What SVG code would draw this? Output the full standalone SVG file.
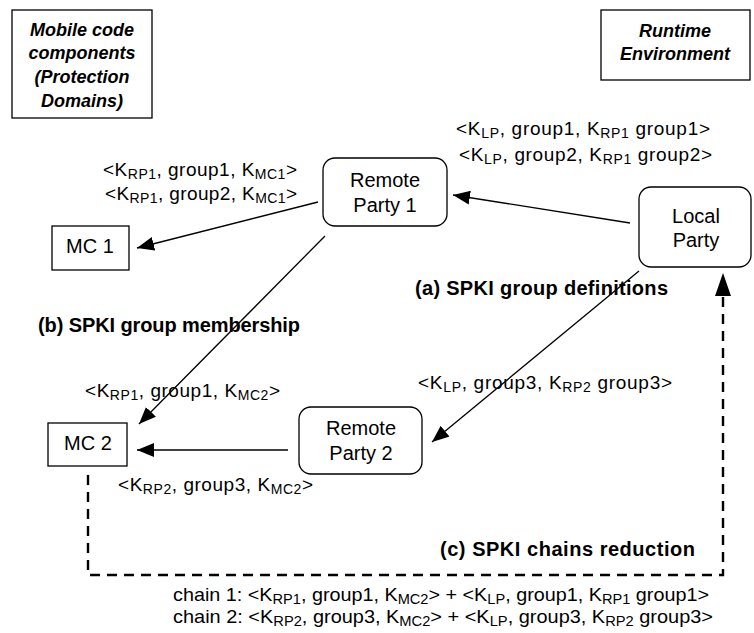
<svg xmlns="http://www.w3.org/2000/svg" width="754" height="633" viewBox="0 0 754 633">
<defs>
<style>
.t{font-family:"Liberation Sans",Arial,sans-serif;font-size:19px;fill:#000}
.s{font-size:14px}
.n{font-family:"Liberation Sans",Arial,sans-serif;font-size:20px;fill:#000;text-anchor:middle}
.b{font-family:"Liberation Sans",Arial,sans-serif;font-size:20px;font-weight:bold;fill:#000}
.bi{font-family:"Liberation Sans",Arial,sans-serif;font-size:18px;font-weight:bold;font-style:italic;fill:#000;text-anchor:middle}
.box{fill:#fff;stroke:#000;stroke-width:1.3}
.ln{fill:none;stroke:#000;stroke-width:1.3}
.dash{fill:none;stroke:#000;stroke-width:2.4;stroke-dasharray:10 7}
</style>
<marker id="ah" markerUnits="userSpaceOnUse" markerWidth="18" markerHeight="14" viewBox="0 0 18 14" refX="17" refY="7" orient="auto">
<path d="M0,0 L17,7 L0,14 Z" fill="#000"/>
</marker>
<marker id="ahb" markerUnits="userSpaceOnUse" markerWidth="24" markerHeight="16" viewBox="0 0 24 16" refX="23" refY="8" orient="auto">
<path d="M0,0 L23,8 L0,16 Z" fill="#000"/>
</marker>
</defs>
<rect width="754" height="633" fill="#fff"/>

<g id="title-mobile">
<rect class="box" x="12" y="10" width="140" height="108"/>
<text class="bi" x="82" y="36">Mobile code</text>
<text class="bi" x="82" y="59">components</text>
<text class="bi" x="82" y="83">(Protection</text>
<text class="bi" x="82" y="107">Domains)</text>
</g>

<g id="title-runtime">
<rect class="box" x="601" y="10" width="149" height="70"/>
<text class="bi" x="675" y="37">Runtime</text>
<text class="bi" x="675" y="60">Environment</text>
</g>

<g id="connectors">
<line class="ln" x1="318" y1="202" x2="137" y2="248" marker-end="url(#ah)"/>
<line class="ln" x1="630" y1="223" x2="453" y2="195" marker-end="url(#ah)"/>
<line class="ln" x1="325" y1="236" x2="139" y2="424" marker-end="url(#ah)"/>
<line class="ln" x1="639" y1="271" x2="432" y2="442" marker-end="url(#ah)"/>
<line class="ln" x1="288" y1="450" x2="137" y2="450" marker-end="url(#ah)"/>
<path class="dash" d="M88,475 V575 H723 V273" marker-end="url(#ahb)"/>
</g>

<g id="rp1">
<rect class="box" x="323" y="158" width="124" height="68" rx="12"/>
<text class="n" x="385" y="187">Remote</text>
<text class="n" x="385" y="212">Party 1</text>
</g>

<g id="lp">
<rect class="box" x="639" y="187" width="112" height="80" rx="12"/>
<text class="n" x="696" y="223">Local</text>
<text class="n" x="696" y="247">Party</text>
</g>

<g id="rp2">
<rect class="box" x="299" y="407" width="123" height="67" rx="12"/>
<text class="n" x="361" y="435">Remote</text>
<text class="n" x="361" y="460">Party 2</text>
</g>

<g id="mc1">
<rect class="box" x="52" y="226" width="77" height="44"/>
<text class="n" x="90" y="253">MC 1</text>
</g>

<g id="mc2">
<rect class="box" x="48" y="423" width="79" height="43"/>
<text class="n" x="88" y="450">MC 2</text>
</g>

<g id="labels">
<text class="t" x="456" y="135" textLength="254">&lt;K<tspan class="s" dy="3">LP</tspan><tspan dy="-3">, group1, K</tspan><tspan class="s" dy="3">RP1</tspan><tspan dy="-3"> group1&gt;</tspan></text>
<text class="t" x="459" y="161" textLength="253">&lt;K<tspan class="s" dy="3">LP</tspan><tspan dy="-3">, group2, K</tspan><tspan class="s" dy="3">RP1</tspan><tspan dy="-3"> group2&gt;</tspan></text>
<text class="t" x="103" y="176" textLength="194">&lt;K<tspan class="s" dy="3">RP1</tspan><tspan dy="-3">, group1, K</tspan><tspan class="s" dy="3">MC1</tspan><tspan dy="-3">&gt;</tspan></text>
<text class="t" x="105" y="200" textLength="192">&lt;K<tspan class="s" dy="3">RP1</tspan><tspan dy="-3">, group2, K</tspan><tspan class="s" dy="3">MC1</tspan><tspan dy="-3">&gt;</tspan></text>
<text class="t" x="85" y="397" textLength="195">&lt;K<tspan class="s" dy="3">RP1</tspan><tspan dy="-3">, group1, K</tspan><tspan class="s" dy="3">MC2</tspan><tspan dy="-3">&gt;</tspan></text>
<text class="t" x="418" y="389" textLength="254">&lt;K<tspan class="s" dy="3">LP</tspan><tspan dy="-3">, group3, K</tspan><tspan class="s" dy="3">RP2</tspan><tspan dy="-3"> group3&gt;</tspan></text>
<text class="t" x="118" y="491" textLength="195">&lt;K<tspan class="s" dy="3">RP2</tspan><tspan dy="-3">, group3, K</tspan><tspan class="s" dy="3">MC2</tspan><tspan dy="-3">&gt;</tspan></text>
<text class="b" x="415" y="295" textLength="253">(a) SPKI group definitions</text>
<text class="b" x="38" y="332" textLength="262">(b) SPKI group membership</text>
<text class="b" x="440" y="556" textLength="255">(c) SPKI chains reduction</text>
<text class="t" x="173" y="601" textLength="536" lengthAdjust="spacingAndGlyphs">chain 1: &lt;K<tspan class="s" dy="3">RP1</tspan><tspan dy="-3">, group1, K</tspan><tspan class="s" dy="3">MC2</tspan><tspan dy="-3">&gt; + &lt;K</tspan><tspan class="s" dy="3">LP</tspan><tspan dy="-3">, group1, K</tspan><tspan class="s" dy="3">RP1</tspan><tspan dy="-3"> group1&gt;</tspan></text>
<text class="t" x="173" y="623" textLength="540" lengthAdjust="spacingAndGlyphs">chain 2: &lt;K<tspan class="s" dy="3">RP2</tspan><tspan dy="-3">, group3, K</tspan><tspan class="s" dy="3">MC2</tspan><tspan dy="-3">&gt; + &lt;K</tspan><tspan class="s" dy="3">LP</tspan><tspan dy="-3">, group3, K</tspan><tspan class="s" dy="3">RP2</tspan><tspan dy="-3"> group3&gt;</tspan></text>
</g>
</svg>
